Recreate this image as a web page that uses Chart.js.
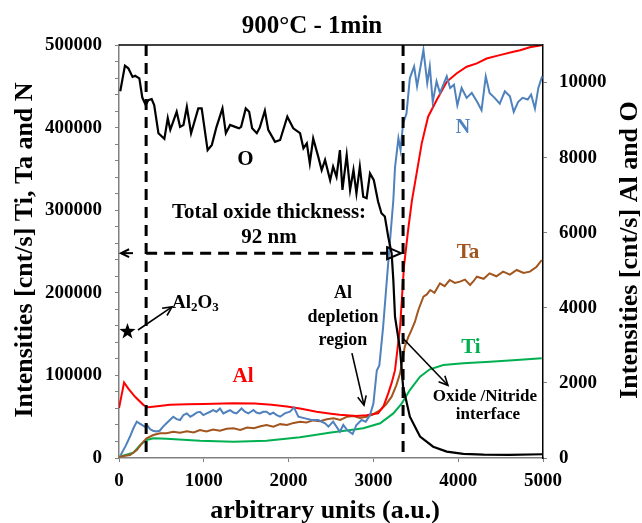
<!DOCTYPE html>
<html>
<head>
<meta charset="utf-8">
<script src="https://cdn.jsdelivr.net/npm/chart.js@4.4.1/dist/chart.umd.min.js"></script>
<style>
  body { margin: 0; background: #fff; }
  canvas { display: block; }
</style>
</head>
<body>
<canvas id="depthChart" width="642" height="523"></canvas>
<script>
// depth profile, 900°C - 1min. x in arbitrary units, O and Al on right axis
const oX = [15, 70, 110, 160, 190, 240, 275, 315, 345, 385, 415, 465, 535, 575, 605, 680, 720, 760, 800, 850, 935, 975, 1045, 1095, 1150, 1220, 1260, 1310, 1370, 1415, 1440, 1495, 1535, 1570, 1625, 1660, 1720, 1760, 1840, 1900, 1985, 2055, 2135, 2175, 2215, 2250, 2290, 2350, 2390, 2430, 2490, 2525, 2565, 2605, 2635, 2685, 2725, 2765, 2800, 2840, 2880, 2920, 2960, 3005, 3055, 3095, 3135, 3175, 3215, 3235, 3255, 3315, 3350, 3430, 3550, 3705, 3865, 4060, 4300, 4600, 5000];
const oY = [9770, 10450, 10380, 10150, 10180, 10110, 9600, 9400, 9530, 9560, 9400, 8650, 8500, 9050, 8740, 9220, 8820, 8870, 9350, 8650, 9310, 9310, 8200, 8340, 8820, 9310, 8650, 8870, 8820, 8780, 8820, 9310, 9220, 8780, 8650, 8800, 9250, 8740, 8420, 8470, 9090, 8780, 8650, 8250, 8380, 7850, 8510, 8020, 7670, 7940, 7400, 7760, 7490, 8200, 7140, 8070, 7140, 7670, 7050, 7760, 6960, 6920, 7580, 7400, 6830, 6520, 6430, 5890, 5450, 4740, 3760, 2880, 1900, 1100, 570, 300, 170, 110, 90, 85, 100];

const nX = [20, 80, 130, 170, 210, 240, 270, 300, 330, 365, 400, 440, 480, 520, 560, 600, 640, 680, 720, 760, 800, 840, 875, 915, 955, 995, 1035, 1075, 1110, 1150, 1190, 1230, 1270, 1310, 1350, 1385, 1415, 1445, 1485, 1525, 1555, 1585, 1620, 1660, 1700, 1740, 1780, 1820, 1860, 1900, 1955, 2015, 2065, 2115, 2195, 2270, 2350, 2430, 2470, 2525, 2605, 2645, 2690, 2755, 2800, 2860, 2910, 2960, 3000, 3040, 3070, 3115, 3155, 3195, 3235, 3255, 3295, 3320, 3350, 3390, 3430, 3480, 3515, 3590, 3635, 3665, 3700, 3745, 3785, 3825, 3865, 3905, 3950, 3990, 4040, 4100, 4160, 4225, 4275, 4325, 4370, 4430, 4490, 4550, 4610, 4655, 4705, 4760, 4820, 4860, 4905, 4945, 4990];
const nY = [3600, 15000, 26000, 36000, 44000, 42000, 40000, 38000, 40000, 35000, 33000, 32000, 33000, 38000, 42000, 46000, 50000, 47000, 46000, 52000, 54000, 50000, 52000, 55000, 56000, 52000, 54000, 56000, 58000, 56000, 60000, 54000, 56000, 58000, 55000, 54000, 57000, 60000, 56000, 54000, 56000, 58000, 55000, 54000, 56000, 56000, 53000, 55000, 52000, 50000, 54000, 56000, 61000, 50000, 48000, 46000, 46000, 42000, 38000, 44000, 31800, 40000, 33900, 29000, 40000, 46000, 44000, 52000, 66000, 106000, 112000, 159000, 211000, 262000, 312000, 352000, 387000, 373000, 405000, 417000, 460000, 474000, 450000, 494000, 454000, 474000, 431000, 456000, 442000, 452000, 462000, 448000, 452000, 427000, 448000, 436000, 442000, 431000, 421000, 462000, 442000, 436000, 429000, 444000, 438000, 419000, 431000, 436000, 434000, 440000, 423000, 448000, 462000];

const alX = [0, 60, 110, 190, 290, 345, 425, 600, 800, 1000, 1350, 1600, 1800, 1980, 2150, 2330, 2500, 2600, 2800, 2920, 3055, 3120, 3175, 3215, 3255, 3315, 3360, 3410, 3455, 3490, 3570, 3645, 3745, 3865, 3980, 4100, 4220, 4335, 4490, 4650, 4730, 4845, 5000];
const alY = [1330, 2010, 1850, 1630, 1410, 1350, 1370, 1420, 1430, 1440, 1460, 1450, 1420, 1370, 1310, 1230, 1180, 1150, 1120, 1140, 1190, 1380, 1720, 2000, 2340, 3500, 5090, 6080, 6870, 7320, 8380, 9090, 9530, 10020, 10240, 10420, 10510, 10640, 10730, 10820, 10860, 10940, 11000];

const taX = [0, 130, 210, 270, 325, 405, 485, 560, 640, 720, 800, 880, 955, 1030, 1110, 1190, 1270, 1350, 1430, 1510, 1590, 1670, 1740, 1820, 1900, 1980, 2060, 2135, 2210, 2290, 2370, 2450, 2530, 2610, 2690, 2765, 2840, 2920, 3000, 3080, 3150, 3215, 3270, 3315, 3370, 3410, 3450, 3490, 3530, 3590, 3630, 3670, 3720, 3785, 3840, 3900, 3960, 4020, 4080, 4140, 4180, 4220, 4300, 4370, 4450, 4530, 4610, 4690, 4770, 4845, 4925, 4985];
const taY = [1600, 3600, 9700, 17800, 23800, 27800, 29900, 29900, 31800, 30500, 32500, 31000, 33900, 32000, 34500, 33000, 35500, 36000, 34000, 37000, 36000, 38500, 40000, 38000, 41000, 40000, 42500, 44000, 43000, 45500, 44500, 47000, 48000, 46000, 50000, 50800, 48500, 50000, 53000, 58000, 65000, 74200, 88000, 102500, 134700, 146000, 155000, 165000, 179200, 195300, 198000, 203400, 200000, 211500, 208000, 215500, 212000, 213500, 216000, 209500, 214000, 219500, 217000, 223600, 220000, 225600, 222000, 227600, 224000, 225600, 231600, 239700];

const tiX = [0, 170, 250, 325, 405, 560, 955, 1350, 1740, 2135, 2500, 2800, 2880, 3080, 3235, 3335, 3430, 3550, 3665, 3825, 4060, 4375, 4690, 4985];
const tiY = [1600, 6400, 15700, 21800, 23800, 23400, 21000, 19700, 21000, 25000, 31000, 34700, 36000, 42000, 54000, 66200, 82300, 98500, 107400, 112600, 114600, 116600, 118700, 120700];

const rightTicks = [0, 2000, 4000, 6000, 8000, 10000];
const xTicksStep = 1000;
const leftMax = 500000, rightMax = 11000;

const SERIF = '"Liberation Serif", "Times New Roman", serif';
const bold = s => 'bold ' + s + 'px ' + SERIF;
const pts = (xs, ys) => xs.map((v, i) => ({ x: v, y: ys[i] }));

function vHead(ctx, x0, y0, x1, y1, len) {
  const a = Math.atan2(y1 - y0, x1 - x0);
  ctx.beginPath();
  ctx.moveTo(x1 - len * Math.cos(a - 0.45), y1 - len * Math.sin(a - 0.45));
  ctx.lineTo(x1, y1);
  ctx.lineTo(x1 - len * Math.cos(a + 0.45), y1 - len * Math.sin(a + 0.45));
  ctx.stroke();
}

function arrow(ctx, x0, y0, x1, y1) {
  ctx.beginPath();
  ctx.moveTo(x0, y0);
  ctx.lineTo(x1, y1);
  ctx.stroke();
  vHead(ctx, x0, y0, x1, y1, 10);
}

const annotations = {
  id: 'annotations',
  afterDatasetsDraw(chart) {
    const { ctx, chartArea: a, scales: { x, yL } } = chart;
    const px = v => x.getPixelForValue(v);
    const py = v => yL.getPixelForValue(v);
    ctx.save();

    // frame top
    ctx.strokeStyle = '#000';
    ctx.lineWidth = 1.5;
    ctx.beginPath();
    ctx.moveTo(a.left, a.top);
    ctx.lineTo(a.right, a.top);
    ctx.stroke();

    // dashed interface lines
    ctx.lineWidth = 3;
    ctx.setLineDash([11, 7]);
    [320, 3350].forEach(v => {
      ctx.beginPath();
      ctx.moveTo(px(v), a.top);
      ctx.lineTo(px(v), a.bottom);
      ctx.stroke();
    });

    // thickness arrow
    const ay = py(248000);
    const tip = px(3350) - 2;
    ctx.beginPath();
    ctx.moveTo(px(320), ay);
    ctx.lineTo(tip - 14, ay);
    ctx.stroke();
    ctx.setLineDash([]);
    ctx.lineWidth = 2;
    ctx.beginPath();
    ctx.moveTo(tip - 14, ay - 6);
    ctx.lineTo(tip, ay);
    ctx.lineTo(tip - 14, ay + 6);
    ctx.closePath();
    ctx.stroke();
    ctx.beginPath();
    ctx.moveTo(a.left + 2, ay);
    ctx.lineTo(a.left + 14, ay);
    ctx.stroke();
    vHead(ctx, a.left + 14, ay, a.left + 2, ay, 9);

    // small arrows
    ctx.lineWidth = 1.6;
    arrow(ctx, px(224), py(155000), px(625), py(183000));
    arrow(ctx, px(2747), py(127000), px(2889), py(64000));
    arrow(ctx, px(3348), py(145000), px(3879), py(88000));

    // star
    const sx = px(100), sy = py(153000);
    ctx.beginPath();
    for (let i = 0; i < 10; i++) {
      const r = i % 2 ? 3.4 : 8.5;
      const t = -Math.PI / 2 + i * Math.PI / 5;
      ctx.lineTo(sx + r * Math.cos(t), sy + r * Math.sin(t));
    }
    ctx.closePath();
    ctx.fillStyle = '#000';
    ctx.fill();

    // text labels
    ctx.textAlign = 'center';
    ctx.textBaseline = 'middle';
    const txt = (s, xv, yv, size, col) => {
      ctx.font = bold(size);
      ctx.fillStyle = col;
      ctx.fillText(s, px(xv), py(yv));
    };
    txt('O', 1490, 361000, 21, '#000');
    txt('N', 4056, 399500, 20, '#4f81bd');
    txt('Total oxide thickness:', 1769, 296600, 21, '#000');
    txt('92 nm', 1769, 266400, 21, '#000');
    txt('Ta', 4115, 248200, 21, '#a0561e');
    txt('Al', 2641, 199800, 18, '#000');
    txt('depletion', 2641, 170700, 18, '#000');
    txt('region', 2641, 142900, 18, '#000');
    txt('Al', 1462, 98100, 21, '#ff0000');
    txt('Ti', 4150, 133200, 21, '#00b050');
    txt('Oxide /Nitride', 4315, 73900, 17, '#000');
    txt('interface', 4350, 52100, 17, '#000');

    // Al2O3 with subscripts
    ctx.textAlign = 'left';
    ctx.fillStyle = '#000';
    let cx = px(625);
    const cy = py(187700);
    [['Al', 19, 0], ['2', 13, 5], ['O', 19, 0], ['3', 13, 5]].forEach(([s, size, dy]) => {
      ctx.font = bold(size);
      ctx.fillText(s, cx, cy + dy);
      cx += ctx.measureText(s).width;
    });
    ctx.restore();
  },
  afterDraw(chart) {
    const { ctx } = chart;
    ctx.save();
    ctx.fillStyle = '#000';
    ctx.textAlign = 'center';
    ctx.textBaseline = 'alphabetic';
    ctx.font = bold(25);
    ctx.fillText('900°C - 1min', 312, 33);
    ctx.font = bold(26);
    ctx.fillText('arbitrary units (a.u.)', 325, 518);
    ctx.translate(32, 250);
    ctx.rotate(-Math.PI / 2);
    ctx.fillText('Intensities [cnt/s] Ti, Ta and N', 0, 0);
    ctx.restore();
    ctx.save();
    ctx.fillStyle = '#000';
    ctx.textAlign = 'center';
    ctx.font = bold(26);
    ctx.translate(637, 250);
    ctx.rotate(-Math.PI / 2);
    ctx.fillText('Intensities [cnt/s] Al and O', 0, 0);
    ctx.restore();
  }
};

const tickFont = { family: SERIF, size: 19, weight: 'bold' };

new Chart(document.getElementById('depthChart'), {
  type: 'line',
  data: {
    datasets: [
      { label: 'O', data: pts(oX, oY), yAxisID: 'yR', borderColor: '#000000', borderWidth: 2.2 },
      { label: 'N', data: pts(nX, nY), yAxisID: 'yL', borderColor: '#4f81bd', borderWidth: 2 },
      { label: 'Al', data: pts(alX, alY), yAxisID: 'yR', borderColor: '#ff0000', borderWidth: 2 },
      { label: 'Ta', data: pts(taX, taY), yAxisID: 'yL', borderColor: '#a0561e', borderWidth: 2 },
      { label: 'Ti', data: pts(tiX, tiY), yAxisID: 'yL', borderColor: '#00b050', borderWidth: 2 }
    ]
  },
  options: {
    responsive: false,
    animation: false,
    layout: { padding: { top: 45, left: 0, right: 0, bottom: 0 } },
    plugins: { legend: { display: false }, tooltip: { enabled: false } },
    elements: { point: { radius: 0 }, line: { tension: 0 } },
    scales: {
      x: {
        type: 'linear', min: 0, max: 5000,
        ticks: { stepSize: xTicksStep, font: tickFont, color: '#000', padding: 8, maxRotation: 0, callback: v => String(v) },
        grid: { drawOnChartArea: false, tickLength: 4, color: '#808080' },
        border: { color: '#808080', width: 1.5 },
        afterFit(s) { s.height = 65; }
      },
      yL: {
        position: 'left', min: 0, max: leftMax,
        ticks: { stepSize: 20000, autoSkip: false, font: tickFont, color: '#000', padding: 13,
          callback: v => (v % 100000 === 0 ? String(v) : '') },
        grid: { drawOnChartArea: false, tickLength: 4, color: '#808080' },
        border: { color: '#808080', width: 1.5 },
        afterFit(s) { s.width = 119; }
      },
      yR: {
        position: 'right', min: 0, max: rightMax,
        afterBuildTicks(s) { s.ticks = rightTicks.map(v => ({ value: v })); },
        ticks: { autoSkip: false, font: tickFont, color: '#000', padding: 12, callback: v => String(v) },
        grid: { drawOnChartArea: false, tickLength: 4, color: '#808080' },
        border: { color: '#000', width: 1.5 },
        afterFit(s) { s.width = 99; }
      }
    }
  },
  plugins: [annotations]
});
</script>
</body>
</html>
